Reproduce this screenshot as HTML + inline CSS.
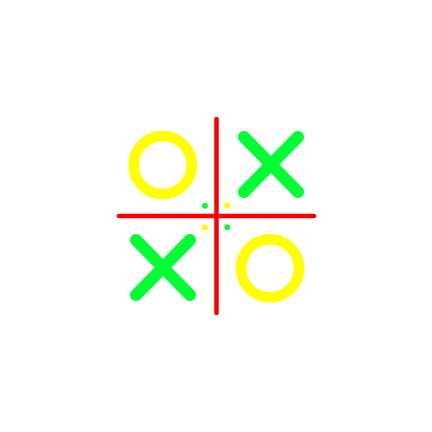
<!DOCTYPE html>
<html><head><meta charset="utf-8"><style>html,body{margin:0;padding:0;background:#fff;width:432px;height:432px;overflow:hidden}</style></head>
<body>
<svg width="432" height="432" viewBox="0 0 432 432">
<rect width="432" height="432" fill="#fff"/>
<g stroke-linecap="round" fill="none">
<line x1="216.5" y1="119" x2="216.5" y2="313" stroke="#ff0000" stroke-width="4.5"/>
<line x1="119" y1="216" x2="314" y2="216" stroke="#ff0000" stroke-width="4.5"/>
<circle cx="162.7" cy="165" r="29" stroke="#ffff00" stroke-width="10.5"/>
<circle cx="270" cy="268.3" r="29" stroke="#ffff00" stroke-width="10.5"/>
<g stroke="#00ff33" stroke-width="12">
<line x1="244" y1="137" x2="298" y2="192"/><line x1="298" y1="137" x2="244" y2="192"/>
</g>
<g stroke="#00ff33" stroke-width="12">
<line x1="136" y1="240" x2="190" y2="295"/><line x1="190" y1="240" x2="136" y2="295"/>
</g>
</g>
<circle cx="205" cy="205.7" r="3" fill="#00ff33"/>
<circle cx="227.3" cy="205.7" r="3" fill="#ffff00"/>
<circle cx="205" cy="227.3" r="3" fill="#ffff00"/>
<circle cx="227.3" cy="227.3" r="3" fill="#00ff33"/>
</svg>
</body></html>
